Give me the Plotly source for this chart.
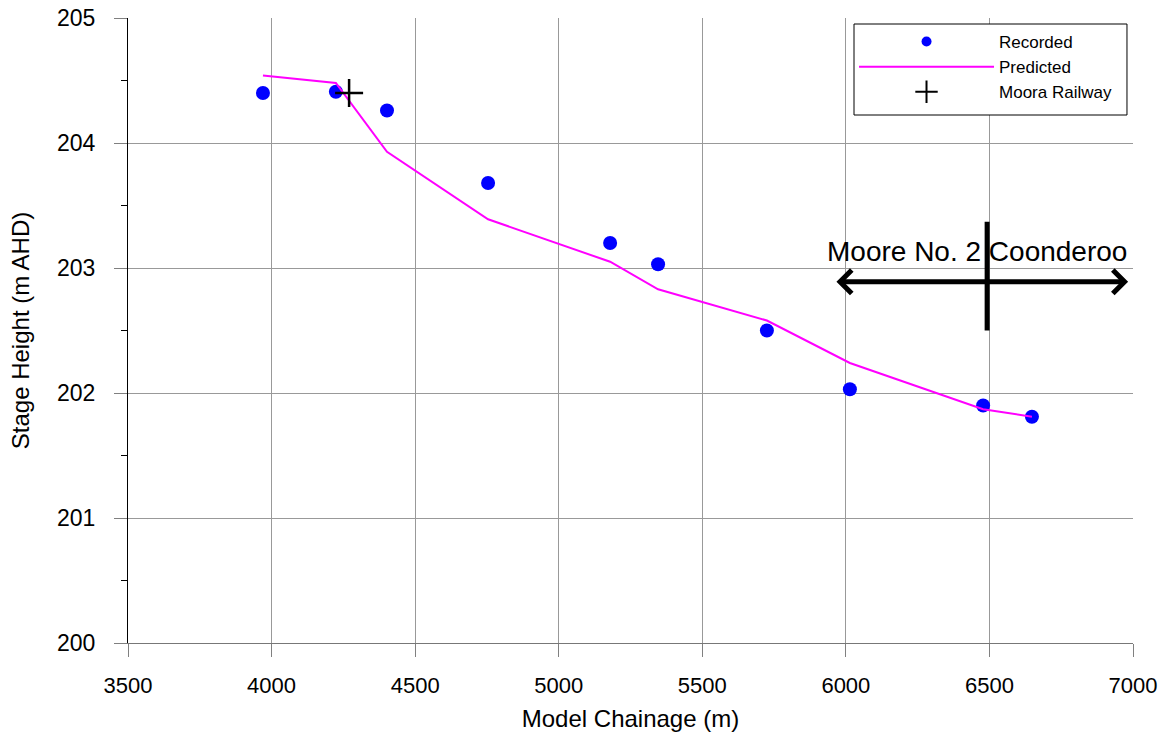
import plotly.graph_objects as go

rec_x = [3970, 4224, 4402, 4754, 5179, 5346, 5725, 6014, 6478, 6648]
rec_y = [204.40, 204.41, 204.26, 203.68, 203.20, 203.03, 202.50, 202.03, 201.90, 201.81]

pred_x = [3970, 4224, 4402, 4754, 5179, 5346, 5725, 6014, 6478, 6648]
pred_y = [204.54, 204.48, 203.93, 203.39, 203.05, 202.83, 202.58, 202.24, 201.87, 201.81]

rail_x = [4270]
rail_y = [204.40]

x_ticks = [3500, 4000, 4500, 5000, 5500, 6000, 6500, 7000]
y_ticks = [200, 201, 202, 203, 204, 205]

FONT = "Liberation Sans, Arial, sans-serif"
GRID = "#999999"

fig = go.Figure()
# data traces (legend drawn by the legend-only entries below)
fig.add_trace(go.Scatter(x=rec_x, y=rec_y, mode="markers", name="Recorded", showlegend=False,
                         marker=dict(color="#0000FF", size=14, line=dict(width=0))))
fig.add_trace(go.Scatter(x=pred_x, y=pred_y, mode="lines", name="Predicted", showlegend=False,
                         line=dict(color="#FF00FF", width=2)))
fig.add_trace(go.Scatter(x=rail_x, y=rail_y, mode="markers", name="Moora Railway", showlegend=False,
                         marker=dict(symbol="cross-thin", size=20, color="black",
                                     line=dict(color="black", width=2.5))))
# legend entries
fig.add_trace(go.Scatter(x=[None], y=[None], mode="markers", name="Recorded",
                         marker=dict(color="#0000FF", size=10, line=dict(width=0))))
fig.add_trace(go.Scatter(x=[None], y=[None], mode="lines", name="Predicted",
                         line=dict(color="#FF00FF", width=2)))
fig.add_trace(go.Scatter(x=[None], y=[None], mode="markers", name="Moora Railway",
                         marker=dict(symbol="cross-thin", size=17, color="black",
                                     line=dict(color="black", width=2))))

# Legend frame (white box above the grid)
fig.add_shape(type="rect", xref="paper", yref="paper",
              x0=0.7224, x1=0.994, y0=0.8448, y1=0.9904,
              fillcolor="white", line=dict(color="black", width=1), layer="above")

# Double-headed arrow and divider
fig.add_annotation(x=6983, y=202.89, ax=5962, ay=202.89, xref="x", yref="y",
                   axref="x", ayref="y", text="", showarrow=True,
                   arrowhead=4, startarrowhead=4, arrowside="end+start",
                   arrowwidth=5, arrowsize=0.9, startarrowsize=0.9,
                   arrowcolor="black", standoff=0, startstandoff=0)
fig.add_shape(type="line", x0=6492, x1=6492, y0=202.5, y1=203.37,
              xref="x", yref="y", line=dict(color="black", width=5))
fig.add_annotation(x=6457, y=203.13, xref="x", yref="y", text="Moore No. 2 Coonderoo",
                   showarrow=False, font=dict(family=FONT, size=28, color="black"))

fig.update_layout(
    width=1171, height=735,
    margin=dict(l=128, r=38, t=18, b=92, autoexpand=False),
    paper_bgcolor="white", plot_bgcolor="white",
    font=dict(family=FONT, size=22, color="black"),
    showlegend=True,
    legend=dict(x=0.7224, y=0.9904, xanchor="left", yanchor="top",
                borderwidth=0, bgcolor="rgba(0,0,0,0)",
                font=dict(family=FONT, size=17), itemwidth=135,
                tracegroupgap=0),
)
fig.update_xaxes(range=[3500, 7000], tickvals=x_ticks, showgrid=True,
                 gridcolor=GRID, gridwidth=1, showline=True, linecolor="#777777",
                 ticks="outside", ticklen=13, tickcolor="#808080",
                 ticklabelstandoff=10, automargin=False, ticklabeloverflow="allow",
                 title=dict(text="Model Chainage (m)", font=dict(size=24), standoff=12),
                 zeroline=False)
fig.update_yaxes(range=[200, 205], tickvals=y_ticks, showgrid=True,
                 gridcolor=GRID, gridwidth=1, showline=True, linecolor="black",
                 ticks="outside", ticklen=13, tickcolor="#808080",
                 ticklabelstandoff=14, automargin=False, ticklabeloverflow="allow",
                 tickfont=dict(size=23),
                 minor=dict(dtick=0.5, ticks="outside", ticklen=6, tickcolor="black", showgrid=False),
                 title=dict(text="Stage Height (m AHD)", font=dict(size=24), standoff=20),
                 zeroline=False)

fig.write_html("out.html", config={"displayModeBar": False},
               post_script="document.body.style.margin='0';document.body.style.overflow='hidden';")
